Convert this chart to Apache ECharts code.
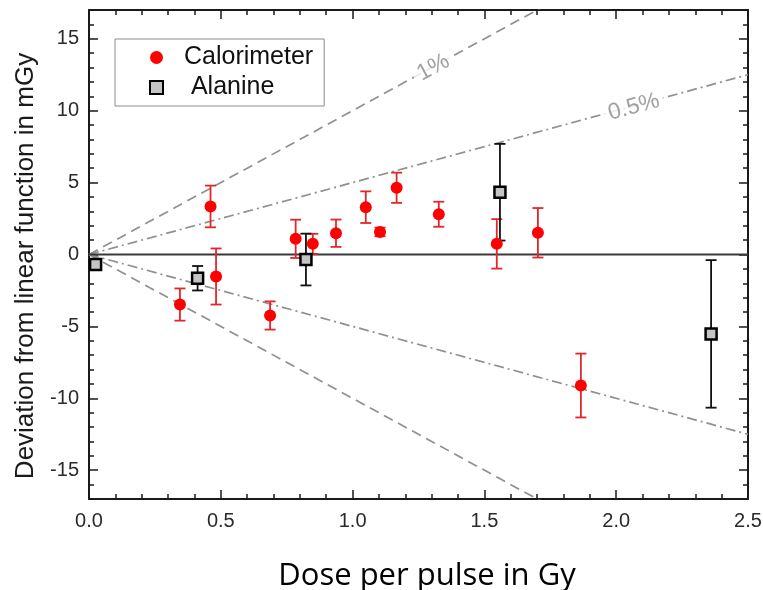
<!DOCTYPE html>
<html><head><meta charset="utf-8">
<script src="https://cdn.jsdelivr.net/npm/echarts@6/dist/echarts.min.js"></script>
<style>html,body{margin:0;padding:0;background:#fff}#c{width:763px;height:590px}</style>
</head><body><div id="c"></div>
<script>
// Calorimeter data (dose per pulse in Gy, deviation in mGy, error in mGy)
const calX   = [0.345, 0.461, 0.482, 0.687, 0.784, 0.849, 0.937, 1.050, 1.104, 1.167, 1.327, 1.547, 1.703, 1.866];
const calY   = [-3.48, 3.34, -1.53, -4.24, 1.09, 0.74, 1.48, 3.29, 1.57, 4.64, 2.80, 0.74, 1.51, -9.11];
const calErr = [1.12, 1.45, 1.95, 0.98, 1.33, 0.70, 0.95, 1.10, 0.30, 1.05, 0.87, 1.72, 1.72, 2.22];
// Alanine data
const alaX   = [0.025, 0.412, 0.823, 1.559, 2.360];
const alaY   = [-0.70, -1.65, -0.35, 4.33, -5.52];
const alaErr = [0.30, 0.85, 1.80, 3.36, 5.13];
// Reference lines (endpoints)
const line1Up    = [[0, 0], [2.5, 25]];
const line1Down  = [[0, 0], [2.5, -25]];
const line05Up   = [[0, 0], [2.5, 12.5]];
const line05Down = [[0, 0], [2.5, -12.5]];
const zeroLine   = [[0, 0], [2.5, 0]];
// Axis ranges / tick labels
const xMin = 0, xMax = 2.5, xStep = 0.5;
const yMin = -17, yMax = 17;
const yLabelMin = -15, yLabelMax = 15, yLabelStep = 5;

const FONT = "'Liberation Sans', Arial, sans-serif";
const chart = echarts.init(document.getElementById('c'), null, {renderer: 'canvas'});

// grid geometry
const G = {left: 89, right: 15, top: 10, bottom: 91, height: 590 - 10 - 91};
const pxPerUnit = G.height / (yMax - yMin);
const inset = (yMax - yLabelMax) * pxPerUnit;

function errRender(color) {
  return function (params, api) {
    const x = api.value(0), y = api.value(1), e = api.value(2);
    const top = api.coord([x, y + e]), bot = api.coord([x, y - e]);
    const hw = 5.5, lw = 1.8;
    const st = {stroke: color, lineWidth: lw};
    return {type: 'group', children: [
      {type: 'line', shape: {x1: top[0], y1: top[1], x2: bot[0], y2: bot[1]}, style: st},
      {type: 'line', shape: {x1: top[0] - hw, y1: top[1], x2: top[0] + hw, y2: top[1]}, style: st},
      {type: 'line', shape: {x1: bot[0] - hw, y1: bot[1], x2: bot[0] + hw, y2: bot[1]}, style: st}
    ]};
  };
}

const TC = '#1a1a1a';
const axisLineStyle = {color: TC, width: 2};
const xAxisBase = {
  type: 'value', gridIndex: 0, min: xMin, max: xMax, interval: xStep,
  axisLine: {show: true, onZero: false, lineStyle: axisLineStyle},
  axisTick: {show: true, inside: true, length: 9, lineStyle: {color: TC, width: 1.5}},
  minorTick: {show: true, splitNumber: 5, length: 5, lineStyle: {color: TC, width: 1.5}},
  splitLine: {show: false}, minorSplitLine: {show: false}
};
const yMinor = {
  type: 'value', gridIndex: 0, min: yMin, max: yMax, interval: 1,
  axisLine: {show: true, onZero: false, lineStyle: axisLineStyle},
  axisTick: {show: true, inside: true, length: 5, lineStyle: {color: TC, width: 1.5}},
  axisLabel: {show: false},
  splitLine: {show: false}
};
const yMajor = {
  type: 'value', gridIndex: 1, min: yLabelMin, max: yLabelMax, interval: yLabelStep,
  axisLine: {show: false, onZero: false},
  axisTick: {show: true, inside: true, length: 9, lineStyle: {color: TC, width: 1.5}},
  axisLabel: {show: false},
  splitLine: {show: false}
};

const option = {
  animation: false,
  backgroundColor: '#fff',
  grid: [
    {left: G.left, right: G.right, top: G.top, bottom: G.bottom, containLabel: false, outerBoundsMode: 'none'},
    {left: G.left, right: G.right, top: G.top + inset, bottom: G.bottom + inset, containLabel: false, outerBoundsMode: 'none'}
  ],
  legend: {
    orient: 'vertical', left: 115, top: 39,
    data: ['Calorimeter', 'Alanine'],
    itemWidth: 13, itemHeight: 13, itemGap: 5,
    padding: [6, 11, 6, 34],
    borderColor: '#8c8c8c', borderWidth: 1,
    formatter: n => n === 'Alanine' ? ' ' + n : n,
    textStyle: {fontFamily: FONT, fontSize: 25, color: '#111', padding: [0, 0, 0, 16]},
    selectedMode: false
  },
  xAxis: [
    Object.assign({}, xAxisBase, {
      position: 'bottom',
      axisLabel: {show: true, fontFamily: FONT, fontSize: 20, color: '#2a2a2a', margin: 12,
        formatter: v => v.toFixed(1)},
      name: 'Dose per pulse in Gy', nameLocation: 'middle', nameGap: 62,
      nameTextStyle: {fontFamily: "'Open Sans', sans-serif", fontSize: 31, color: '#000', padding: [0, 0, 0, 17]}
    }),
    Object.assign({}, xAxisBase, {position: 'top', axisLabel: {show: false}}),
    {type: 'value', gridIndex: 1, min: xMin, max: xMax, show: false}
  ],
  yAxis: [
    Object.assign({}, yMinor, {position: 'left'}),
    Object.assign({}, yMinor, {position: 'right'}),
    Object.assign({}, yMajor, {
      position: 'left',
      axisLabel: {show: true, fontFamily: FONT, fontSize: 20, color: '#2a2a2a', margin: 10},
      name: 'Deviation from linear function in mGy', nameLocation: 'middle', nameGap: 50,
      nameTextStyle: {fontFamily: FONT, fontSize: 26, color: '#1a1a1a', padding: [0, 23, 0, 0]}
    }),
    Object.assign({}, yMajor, {position: 'right'})
  ],
  series: [
    {type: 'line', name: 'ref1u', data: line1Up, symbol: 'none', silent: true, z: 1,
      lineStyle: {color: '#909090', width: 1.7, type: [10, 6]}},
    {type: 'line', name: 'ref1d', data: line1Down, symbol: 'none', silent: true, z: 1,
      lineStyle: {color: '#909090', width: 1.7, type: [10, 6]}},
    {type: 'line', name: 'ref05u', data: line05Up, symbol: 'none', silent: true, z: 1,
      lineStyle: {color: '#909090', width: 1.7, type: [10, 4, 2, 4]}},
    {type: 'line', name: 'ref05d', data: line05Down, symbol: 'none', silent: true, z: 1,
      lineStyle: {color: '#909090', width: 1.7, type: [10, 4, 2, 4]}},
    {type: 'line', name: 'zero', data: zeroLine, symbol: 'none', silent: true, z: 2,
      lineStyle: {color: '#3a3a3a', width: 1.8}},
    {type: 'scatter', name: 'labels', silent: true, z: 3, symbolSize: 0,
      data: [
        {value: [1.306, 13.0], label: {formatter: '1%', rotate: 28.6}},
        {value: [2.067, 10.25], label: {formatter: '0.5%', rotate: 15.3}}
      ],
      label: {show: true, position: 'inside', fontFamily: FONT, fontSize: 23, color: '#8a8a8a',
        backgroundColor: '#fff', padding: [0, 5]}},
    {type: 'custom', name: 'calErr', renderItem: errRender('#e3262a'), z: 4, silent: true,
      data: calX.map((x, i) => [x, calY[i], calErr[i]])},
    {type: 'custom', name: 'alaErr', renderItem: errRender('#111'), z: 4, silent: true,
      data: alaX.map((x, i) => [x, alaY[i], alaErr[i]])},
    {type: 'scatter', name: 'Calorimeter', symbol: 'circle', symbolSize: 12, z: 6,
      itemStyle: {color: '#ff0000', opacity: 1},
      data: calX.map((x, i) => [x, calY[i]])},
    {type: 'scatter', name: 'Alanine', symbol: 'rect', symbolSize: 11, z: 5,
      itemStyle: {color: '#c4c4c4', borderColor: '#000', borderWidth: 2.5, opacity: 1},
      data: alaX.map((x, i) => [x, alaY[i]])}
  ]
};
chart.setOption(option);
</script>
</body></html>
